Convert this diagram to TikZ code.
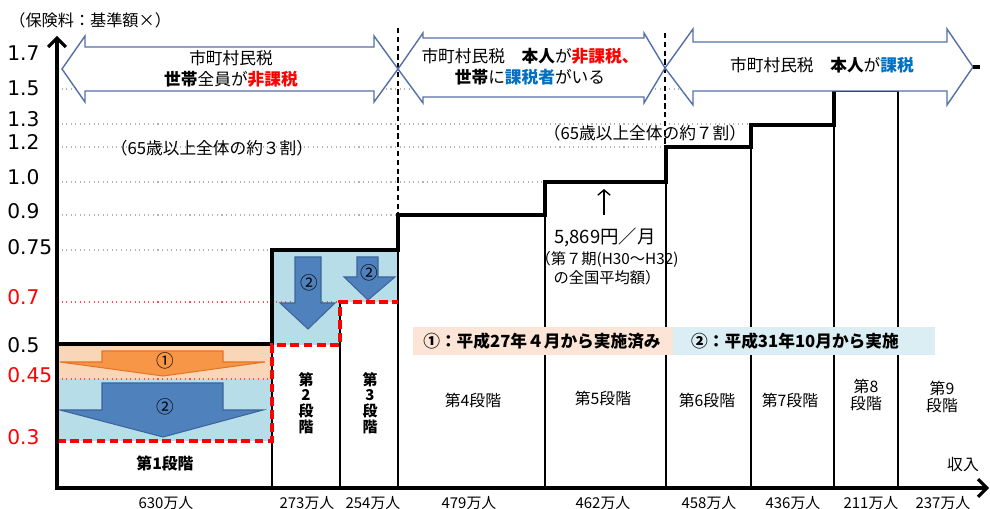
\documentclass[tikz,border=0pt]{standalone}
\usepackage{fontspec}
\setmainfont{Noto Sans CJK JP}
\newfontfamily\numfont{DejaVu Sans}
\usetikzlibrary{arrows.meta}

\definecolor{peachband}{RGB}{250,214,184}
\definecolor{peachkey}{RGB}{252,228,214}
\definecolor{lightblue}{RGB}{183,221,232}
\definecolor{bluekey}{RGB}{218,238,243}
\definecolor{orangefill}{RGB}{247,150,70}
\definecolor{orangeline}{RGB}{228,118,40}
\definecolor{bluefill}{RGB}{79,129,189}
\definecolor{blueline}{RGB}{60,100,155}
\definecolor{bandline}{RGB}{84,112,166}
\definecolor{taxblue}{RGB}{0,112,192}
\definecolor{taxred}{RGB}{255,0,0}

\tikzset{
    stair/.style={line width=1.8pt, line join=miter},
    divider/.style={line width=0.7pt},
    guide/.style={dotted, black!30, line width=0.6pt},
    redguide/.style={dotted, taxred!70, line width=0.6pt},
    cutline/.style={taxred, line width=1.8pt, dash pattern=on 5pt off 2.5pt},
    border/.style={line width=0.8pt, dash pattern=on 3pt off 2pt},
    bandarrow/.style={draw=bandline, fill=white, line width=0.8pt, line join=miter},
    downarrow/.style={line width=0.6pt, line join=miter},
    bandtext/.style={font=\fontsize{9.5}{11.8}\selectfont, align=center, inner sep=0pt},
    stagetext/.style={font=\fontsize{9}{9.5}\selectfont, align=center, inner sep=0pt},
    stagebold/.style={font=\fontsize{8.5}{9}\selectfont\bfseries, align=center, inner sep=0pt},
    counttext/.style={font=\fontsize{8.5}{10}\selectfont, inner sep=0pt},
    levellabel/.style={font=\numfont\fontsize{11.5}{12}\selectfont, anchor=west, inner sep=0pt}
}

\begin{document}
\begin{tikzpicture}[x=0.02cm, y=-0.02cm]
    \useasboundingbox (0,0) rectangle (990,509);
    % Level guide lines
    \foreach \y/\xend in {89/834, 124/751, 147/666, 182/545, 215/398, 250/272}
    {
        \draw[guide] (57,\y) -- (\xend,\y);
    }
    % Reduced parts
    \fill[peachband] (57,345) rectangle (272,379);
    \fill[lightblue] (57,379) rectangle (272,441);
    \fill[lightblue] (272,250) rectangle (340,345);
    \fill[lightblue] (340,250) rectangle (398,302);
    \draw[redguide] (57,302) -- (340,302);
    \draw[redguide] (57,379) -- (272,379);
    % Down arrows
    \draw[downarrow, draw=orangeline, fill=orangefill] (102,351) -- (223,351) -- (223,362) -- (265,362) -- (163,376) -- (60,362) -- (102,362) -- cycle;
    \draw[downarrow, draw=blueline, fill=bluefill] (102,383) -- (223,383) -- (223,410) -- (263,410) -- (163,437) -- (60,410) -- (102,410) -- cycle;
    \draw[downarrow, draw=blueline, fill=bluefill] (295,257) -- (321,257) -- (321,303) -- (335,303) -- (308,329) -- (280,303) -- (295,303) -- cycle;
    \draw[downarrow, draw=blueline, fill=bluefill] (357,257) -- (378,257) -- (378,277) -- (395,277) -- (368,300) -- (344,277) -- (357,277) -- cycle;
    \node[font=\fontsize{10}{10}\selectfont, inner sep=0pt] (cutA) at (165,361) {①};
    \node[font=\fontsize{10}{10}\selectfont, inner sep=0pt] (cutB) at (165,407) {②};
    \node[font=\fontsize{10}{10}\selectfont, inner sep=0pt] (cutC) at (309,283) {②};
    \node[font=\fontsize{10}{10}\selectfont, inner sep=0pt] (cutD) at (369,273) {②};
    % Stage dividers
    \foreach \x/\ytop in {272/344, 340/302, 398/250, 545/215, 666/182, 751/147, 834/125, 898/91}
    {
        \draw[divider] (\x,\ytop) -- (\x,488);
    }
    % Premium steps
    \draw[stair] (57,344) -- (272,344) -- (272,250) -- (398,250) -- (398,215) -- (545,215) -- (545,182) -- (666,182) -- (666,147) -- (751,147) -- (751,125) -- (834,125) -- (834,91);
    \draw[divider] (834,91) -- (898,91);
    % Reduced levels
    \draw[cutline] (57,441) -- (272,441) -- (272,345) -- (340,345) -- (340,302) -- (398,302);
    % Axes
    \draw[line width=1.8pt, -{Straight Barb[length=5pt, width=10pt]}] (57,490) -- (57,36);
    \draw[line width=1.8pt, -{Straight Barb[length=5pt, width=10pt]}] (55,488) -- (989,488);
    % Tax borders
    \draw[border] (398,28) -- (398,215);
    \draw[border] (665,33) -- (665,147);
    % Tax groups
    \draw[bandarrow] (62,69) -- (85,36) -- (85,47) -- (374,47) -- (374,36) -- (398,69) -- (374,102) -- (374,91) -- (85,91) -- (85,102) -- cycle;
    \draw[bandarrow] (398,69) -- (423,33) -- (423,38) -- (644,38) -- (644,33) -- (665,68) -- (644,103) -- (644,97) -- (423,97) -- (423,103) -- cycle;
    \draw[bandarrow] (665,68) -- (693,29) -- (693,42) -- (947,42) -- (947,29) -- (973,67) -- (947,105) -- (947,91) -- (693,91) -- (693,105) -- cycle;
    \draw[line width=2pt] (973,67) -- (980,67);
    \node[bandtext] (groupA) at (231,68.5) {市町村民税\\\textbf{世帯}全員が\textbf{\color{taxred}非課税}};
    \node[bandtext] (groupB) at (530,67) {市町村民税　\textbf{本人}が\textbf{\color{taxred}非課税、}\\\textbf{世帯}に\textbf{\color{taxblue}課税者}がいる};
    \node[bandtext] (groupC) at (822,65.5) {市町村民税　\textbf{本人}が\textbf{\color{taxblue}課税}};
    \node[bandtext] (shareA) at (212,148) {（65歳以上全体の約３割）};
    \node[bandtext] (shareB) at (645,133) {（65歳以上全体の約７割）};
    % Average
    \coordinate (avgfoot) at (604,215);
    \coordinate (avgtip) at (604,189);
    \draw[line width=0.8pt, -{Straight Barb[length=3pt, width=7pt]}] (avgfoot) -- (avgtip);
    \node[font=\fontsize{10.5}{12}\selectfont, inner sep=0pt] (avg) at (605,237) {5,869円／月};
    \node[font=\fontsize{8.7}{10.8}\selectfont, align=center, inner sep=0pt] (avgnote) at (607,268.5) {（第７期(H30～H32)\\の全国平均額）};
    % Key
    \fill[peachkey] (413,327) rectangle (673,355);
    \fill[bluekey] (673,327) rectangle (935,355);
    \node[bandtext, font=\fontsize{9.5}{11}\selectfont\bfseries] (keyA) at (542,341) {①：平成27年４月から実施済み};
    \node[bandtext, font=\fontsize{9.5}{11}\selectfont\bfseries] (keyB) at (795,341) {②：平成31年10月から実施};
    % Stages
    \node[stagebold, font=\fontsize{9}{9.5}\selectfont\bfseries] (stage1) at (165,463) {第1段階};
    \node[stagebold] (stage2) at (306,403) {第\\2\\段\\階};
    \node[stagebold] (stage3) at (370,403) {第\\3\\段\\階};
    \node[stagetext] (stage4) at (473,400) {第4段階};
    \node[stagetext] (stage5) at (603,398) {第5段階};
    \node[stagetext] (stage6) at (707,400) {第6段階};
    \node[stagetext] (stage7) at (790,400) {第7段階};
    \node[stagetext] (stage8) at (866,395) {第8\\段階};
    \node[stagetext] (stage9) at (942,397) {第9\\段階};
    \node[stagetext] (income) at (963,465) {収入};
    % Numbers of people
    \foreach \x/\n [count=\i] in {166/630, 307/273, 373/254, 469/479, 603/462, 709/458, 793/436, 871/211, 943/237}
    {
        \node[counttext] (count\i) at (\x,503) {\n{}万人};
    }
    % Levels
    \foreach \y/\v/\c [count=\i] in {53/1.7/black, 88/1.5/black, 119/1.3/black, 142/1.2/black, 177/1.0/black, 211/0.9/black, 247/0.75/black, 297/0.7/taxred, 345/0.5/black, 375/0.45/taxred, 437/0.3/taxred}
    {
        \node[levellabel, text=\c] (level\i) at (7,\y) {\v};
    }
    \node[font=\fontsize{9.2}{11}\selectfont, anchor=west, inner sep=0pt] (title) at (9,20) {（保険料：基準額×）};
\end{tikzpicture}
\end{document}
